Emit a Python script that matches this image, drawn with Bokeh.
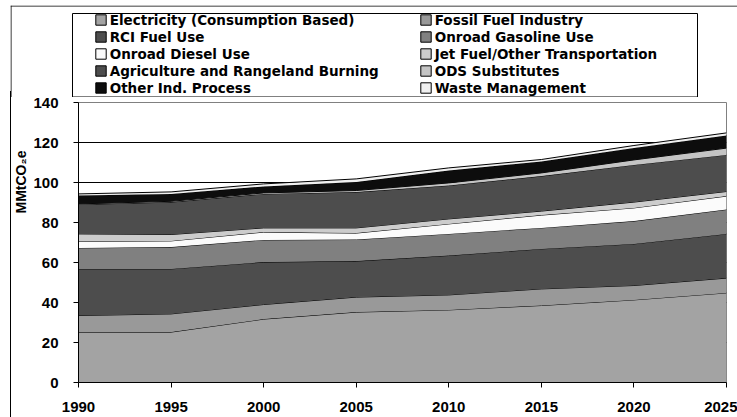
import numpy as np
from bokeh.plotting import figure
from bokeh.layouts import column, row
from bokeh.models import (ColumnDataSource, Legend, LegendItem, FixedTicker,
                          Range1d, Title)
from bokeh.embed import file_html
from bokeh.resources import INLINE

years = [1990, 1995, 2000, 2005, 2010, 2015, 2020, 2025]
electricity = [25.2, 25.2, 31.7, 35.2, 36.3, 38.5, 41.3, 44.8]
fossil_fuel_industry = [8.3, 9.1, 7.3, 7.5, 7.5, 8.3, 7.2, 7.4]
rci_fuel_use = [23.3, 22.5, 21.2, 18.0, 19.7, 20.0, 20.8, 22.1]
onroad_gasoline = [10.5, 10.9, 11.1, 10.8, 10.8, 10.5, 11.4, 12.2]
onroad_diesel = [3.2, 3.1, 3.9, 3.2, 5.0, 6.4, 6.6, 6.7]
jet_fuel_other = [3.8, 3.2, 2.1, 2.6, 2.5, 2.0, 2.9, 2.3]
agriculture_burning = [14.7, 16.2, 17.0, 17.9, 16.7, 17.5, 18.6, 18.3]
ods_substitutes = [0.3, 0.4, 0.5, 0.8, 1.3, 1.6, 2.5, 3.4]
other_ind_process = [4.2, 3.7, 3.2, 4.2, 6.2, 5.7, 6.0, 6.3]
waste_management = [0.8, 1.0, 1.3, 1.6, 1.3, 1.0, 1.2, 1.3]

series_names = ["Electricity (Consumption Based)", "Fossil Fuel Industry",
                "RCI Fuel Use", "Onroad Gasoline Use", "Onroad Diesel Use",
                "Jet Fuel/Other Transportation", "Agriculture and Rangeland Burning",
                "ODS Substitutes", "Other Ind. Process", "Waste Management"]
series_values = [electricity, fossil_fuel_industry, rci_fuel_use, onroad_gasoline,
                 onroad_diesel, jet_fuel_other, agriculture_burning, ods_substitutes,
                 other_ind_process, waste_management]
series_colors = ["#a3a3a3", "#999999", "#4d4d4d", "#808080", "#fbfbfb",
                 "#cccccc", "#4d4d4d", "#c4c4c4", "#0d0d0d", "#f0f0f0"]
y_ticks = [0, 20, 40, 60, 80, 100, 120, 140]
x_ticks = [1990, 1995, 2000, 2005, 2010, 2015, 2020, 2025]

# page-pixel layout constants (decoration only)
PAGE_LEFT, PAGE_TOP, SPLIT_Y, OVERLAP = 10, 5, 97, 6
BOX = dict(left=72, right=697, top=13, bottom=96.5)

# ---------------- main chart ----------------
p = figure(width=727, height=320 + OVERLAP, output_backend="svg",
           toolbar_location=None,
           x_range=Range1d(1990, 2025), y_range=Range1d(0, 140),
           min_border_left=67, min_border_right=12, min_border_top=5 + OVERLAP,
           min_border_bottom=35)
p.background_fill_color = "white"
p.border_fill_alpha = 0
p.outline_line_color = "#808080"
p.outline_line_width = 1
p.styles = {"border-left": "1px solid black"}
p.margin = (-OVERLAP, 0, 0, 0)

# ---------------- legend strip (data units = page pixels) ----------------
lf = figure(width=727, height=SPLIT_Y - PAGE_TOP, output_backend="svg",
            toolbar_location=None, x_axis_type=None, y_axis_type=None,
            x_range=Range1d(PAGE_LEFT, PAGE_LEFT + 727),
            y_range=Range1d(SPLIT_Y, PAGE_TOP),
            min_border_left=0, min_border_right=0, min_border_top=0,
            min_border_bottom=0)
lf.outline_line_color = None
lf.background_fill_color = "white"
lf.border_fill_color = "white"

# outer chart border (top and left edges) and legend box
lf.segment(x0=[PAGE_LEFT, PAGE_LEFT + 0.5], y0=[PAGE_TOP + 0.5, PAGE_TOP],
           x1=[PAGE_LEFT + 727, PAGE_LEFT + 0.5], y1=[PAGE_TOP + 0.5, SPLIT_Y],
           line_color="black", line_width=1)
lf.quad(left=[BOX["left"]], right=[BOX["right"]], top=[BOX["top"]],
        bottom=[BOX["bottom"]], fill_color="white", line_color="black",
        line_width=1)

bottom = np.zeros(len(years))
legend_renderers = []
for name, vals, col in zip(series_names, series_values, series_colors):
    top = bottom + np.array(vals)
    src = ColumnDataSource(dict(x=years, y1=bottom, y2=top))
    p.varea(x="x", y1="y1", y2="y2", source=src, fill_color=col)
    p.line(x="x", y="y2", source=src, line_color="black", line_width=1)
    psrc = ColumnDataSource(dict(x=list(years) + list(years[::-1]),
                                 y=list(top) + list(bottom[::-1])))
    r = lf.patch("x", "y", source=psrc, fill_color=col, line_color="black",
                 line_width=1, visible=False)
    legend_renderers.append(r)
    bottom = top

# axes
for ax in (p.xaxis[0], p.yaxis[0]):
    ax.axis_line_color = "black"
    ax.axis_line_width = 1
    ax.major_tick_line_color = "black"
    ax.major_tick_out = 5
    ax.major_tick_in = 0
    ax.minor_tick_line_color = None
    ax.major_label_text_font = "Liberation Sans"
    ax.major_label_text_font_style = "bold"
    ax.major_label_text_font_size = "15px"
    ax.major_label_text_color = "black"
p.xaxis.ticker = FixedTicker(ticks=x_ticks)
p.yaxis.ticker = FixedTicker(ticks=y_ticks)
p.xaxis.major_label_standoff = 14
p.yaxis.major_label_standoff = 15

p.xgrid.grid_line_color = None
p.ygrid.grid_line_color = "black"
p.ygrid.grid_line_width = 1

p.add_layout(Title(text="MMtCO₂e", align="right", offset=48, standoff=0,
                   vertical_align="top",
                   text_font="Liberation Sans", text_font_style="bold",
                   text_font_size="14px", text_color="black"), "left")

def make_legend(idx, vx):
    items = [LegendItem(label=series_names[i], renderers=[legend_renderers[i]])
             for i in idx]
    return Legend(items=items, location=(vx, 1.5), orientation="vertical",
                  glyph_width=13, glyph_height=13, label_standoff=3,
                  label_height=15, spacing=1, padding=0, margin=0,
                  border_line_alpha=0, background_fill_alpha=0,
                  label_text_font="DejaVu Sans", label_text_font_style="bold",
                  label_text_font_size="13.5px", label_text_color="black")

lf.add_layout(make_legend([0, 2, 4, 6, 8], 93.7 - PAGE_LEFT), "center")
lf.add_layout(make_legend([1, 3, 5, 7, 9], 418.7 - PAGE_LEFT), "center")

layout = column(row(lf), p, margin=(PAGE_TOP, 0, 0, PAGE_LEFT))

open("out.html", "w").write(file_html(layout, INLINE))
